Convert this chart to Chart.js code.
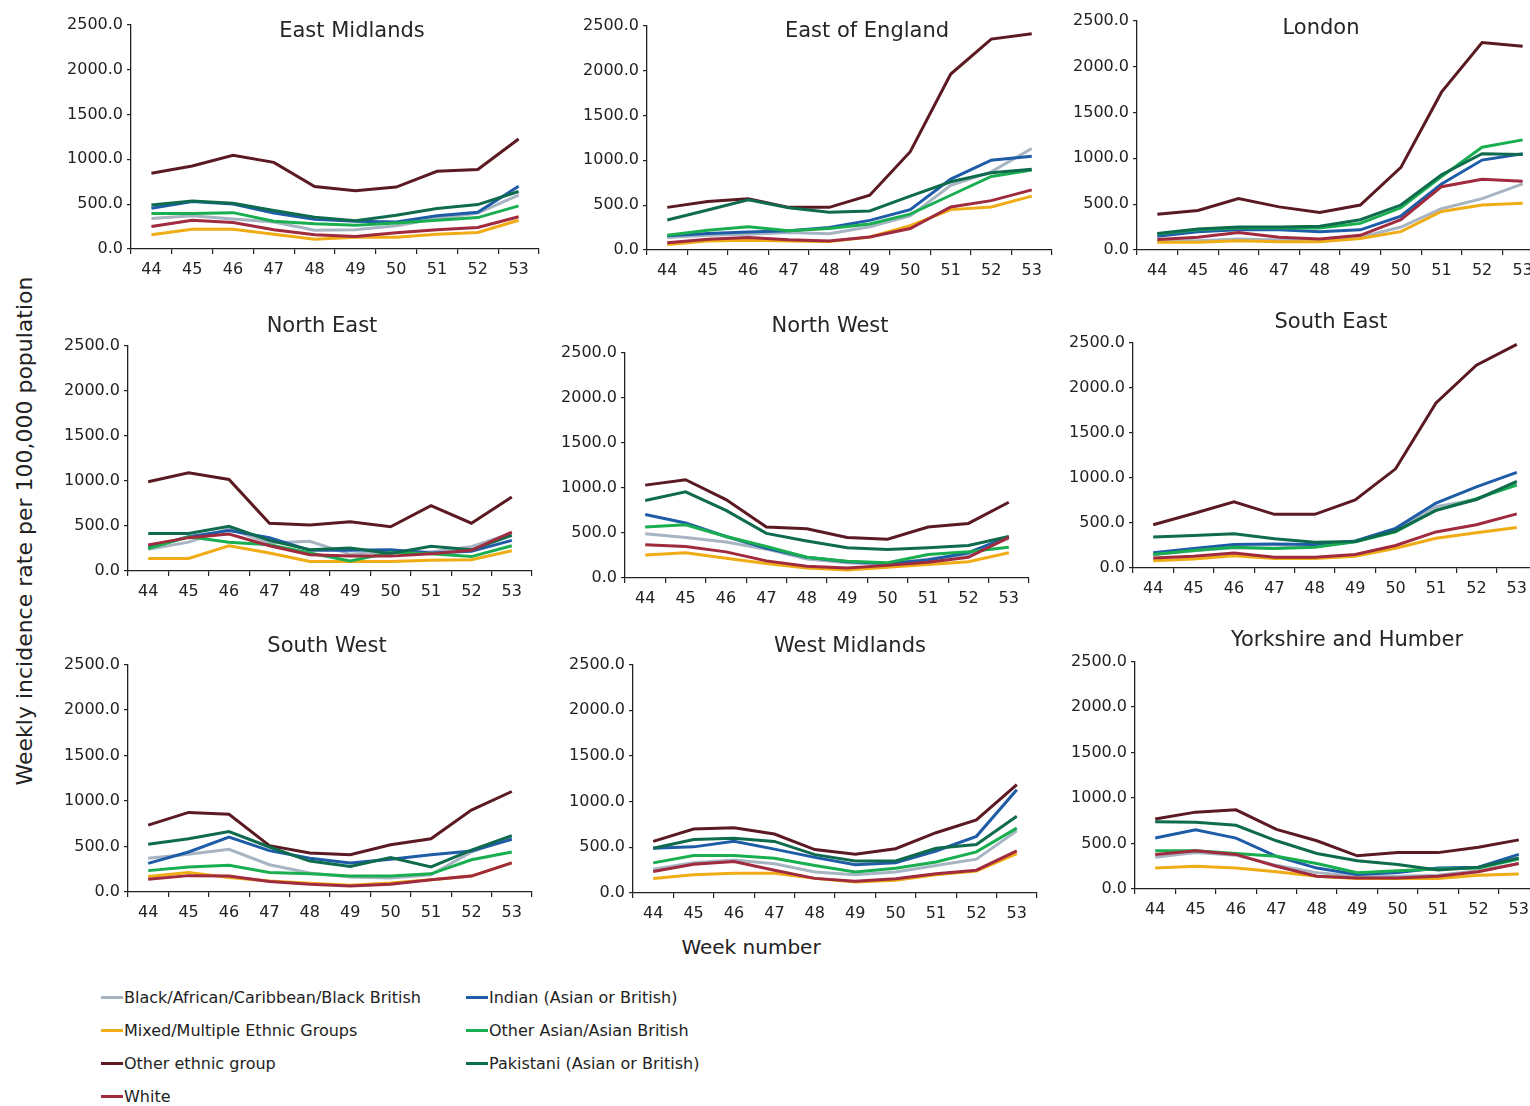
<!DOCTYPE html>
<html>
<head>
<meta charset="utf-8">
<title>Weekly incidence rate by ethnic group and region</title>
<script src="https://cdn.jsdelivr.net/npm/chart.js@4.4.1/dist/chart.umd.min.js"></script>
<style>
  html, body { margin: 0; padding: 0; background: #fff; }
  body { width: 1530px; height: 1106px; position: relative; overflow: hidden; font-family: "DejaVu Sans", sans-serif; color: #222; }
  .panel { position: absolute; }
  .title { position: absolute; font-size: 21px; line-height: 1; white-space: nowrap; transform: translateX(-50%); color: #262626; }
  .ytitle { position: absolute; left: 25px; top: 531px; font-size: 22px; line-height: 1; white-space: nowrap; transform: translate(-50%, -50%) rotate(-90deg); }
  .xtitle { position: absolute; left: 751px; top: 937px; font-size: 20px; line-height: 1; transform: translateX(-50%); white-space: nowrap; }
  .leg { position: absolute; font-size: 16px; line-height: 1; white-space: nowrap; transform: translateY(-50%); }
  .leg i { display: inline-block; width: 22px; height: 2.5px; vertical-align: middle; margin-right: 1px; position: relative; top: -1px; }
</style>
</head>
<body>
<div class="ytitle">Weekly incidence rate per 100,000 population</div>
<div class="xtitle">Week number</div>
<div id="legend"></div>

<script>
// categories
const weeks = ["44", "45", "46", "47", "48", "49", "50", "51", "52", "53"];
const groups = [
  "Black/African/Caribbean/Black British",
  "Indian (Asian or British)",
  "Mixed/Multiple Ethnic Groups",
  "Other Asian/Asian British",
  "Other ethnic group",
  "Pakistani (Asian or British)",
  "White"
];
const groupColors = ["#A7B4C2", "#1F5CA8", "#F0AC14", "#19AE50", "#5B1A22", "#0F6B4D", "#A02A3E"];
const yTicks = [0, 500, 1000, 1500, 2000, 2500];

// rows follow the order of groups: Black, Indian, Mixed, Other Asian, Other, Pakistani, White
const eastMidlands = [
  [340, 370, 335, 300, 210, 215, 260, 340, 400, 600],
  [455, 530, 500, 400, 330, 310, 300, 370, 410, 700],
  [160, 220, 220, 165, 110, 130, 130, 165, 185, 320],
  [395, 395, 405, 310, 280, 265, 290, 320, 350, 480],
  [845, 925, 1045, 965, 695, 650, 690, 865, 885, 1225],
  [490, 535, 510, 430, 355, 315, 375, 450, 495, 640],
  [250, 320, 295, 215, 160, 140, 180, 215, 240, 360]
];
const eastOfEngland = [
  [140, 165, 175, 195, 180, 260, 380, 720, 870, 1130],
  [160, 185, 200, 215, 250, 330, 450, 790, 1000, 1045],
  [60, 100, 110, 100, 95, 145, 270, 450, 480, 600],
  [165, 220, 260, 215, 240, 290, 400, 610, 820, 890],
  [475, 540, 570, 475, 475, 610, 1095, 1960, 2350, 2410],
  [335, 445, 560, 470, 420, 435, 600, 760, 860, 900],
  [80, 120, 140, 115, 100, 145, 240, 480, 550, 670]
];
const london = [
  [100, 100, 120, 110, 110, 140, 250, 450, 560, 720],
  [150, 200, 220, 220, 200, 220, 370, 720, 980, 1050],
  [85, 85, 100, 90, 90, 125, 200, 420, 490, 510],
  [175, 220, 240, 240, 240, 290, 460, 800, 1120, 1200],
  [390, 430, 560, 470, 410, 490, 900, 1720, 2260, 2220],
  [180, 230, 250, 250, 260, 330, 490, 820, 1050, 1040],
  [115, 140, 190, 140, 120, 160, 330, 690, 770, 750]
];
const northEast = [
  [240, 320, 470, 310, 330, 185, 220, 210, 270, 420],
  [260, 380, 450, 370, 230, 230, 235, 200, 220, 340],
  [140, 140, 280, 200, 105, 105, 105, 120, 125, 225],
  [250, 380, 320, 290, 200, 110, 205, 190, 160, 280],
  [990, 1090, 1015, 530, 510, 545, 490, 725, 530, 820],
  [415, 415, 495, 340, 235, 255, 195, 275, 235, 395],
  [290, 370, 410, 280, 180, 165, 165, 190, 230, 430]
];
const northWest = [
  [490, 450, 400, 320, 210, 170, 150, 210, 260, 440],
  [705, 610, 460, 330, 230, 180, 160, 200, 280, 460],
  [255, 280, 220, 160, 110, 90, 120, 150, 180, 280],
  [565, 590, 460, 350, 230, 185, 170, 260, 290, 340],
  [1030, 1090, 870, 565, 545, 450, 430, 565, 605, 840],
  [860, 955, 750, 495, 410, 335, 315, 335, 360, 460],
  [370, 350, 290, 190, 130, 110, 140, 175, 230, 450]
];
const southEast = [
  [150, 190, 225, 220, 245, 290, 420, 680, 760, 940],
  [170, 215, 260, 265, 260, 300, 440, 720, 900, 1060],
  [80, 100, 135, 105, 105, 130, 220, 330, 390, 450],
  [150, 195, 230, 215, 230, 290, 400, 640, 770, 920],
  [480, 605, 735, 595, 595, 755, 1100, 1830, 2250, 2480],
  [345, 360, 380, 325, 285, 295, 410, 640, 760, 960],
  [110, 130, 165, 120, 120, 150, 250, 400, 480, 600]
];
const southWest = [
  [370, 415, 470, 300, 210, 165, 155, 190, 440, 600],
  [315, 440, 605, 455, 370, 320, 360, 410, 450, 580],
  [170, 215, 160, 120, 95, 75, 100, 135, 175, 320],
  [235, 275, 295, 215, 200, 175, 175, 200, 355, 440],
  [735, 875, 855, 510, 430, 410, 520, 585, 900, 1105],
  [525, 585, 665, 495, 340, 280, 380, 275, 460, 620],
  [140, 180, 175, 115, 85, 65, 85, 135, 175, 320]
];
const westMidlands = [
  [260, 330, 360, 320, 230, 200, 230, 300, 370, 680],
  [490, 505, 565, 480, 390, 310, 330, 460, 620, 1130],
  [160, 200, 215, 215, 160, 120, 140, 200, 240, 430],
  [330, 410, 410, 380, 300, 230, 270, 340, 450, 710],
  [565, 700, 715, 645, 475, 425, 485, 660, 800, 1185],
  [490, 585, 600, 565, 420, 350, 350, 490, 530, 840],
  [235, 315, 345, 250, 160, 130, 155, 210, 250, 460]
];
const yorkshireHumber = [
  [350, 400, 370, 260, 180, 140, 140, 150, 200, 280],
  [560, 650, 560, 360, 230, 160, 180, 230, 240, 380],
  [230, 250, 230, 190, 140, 115, 115, 115, 150, 165],
  [420, 420, 390, 360, 280, 180, 200, 220, 230, 330],
  [770, 845, 870, 655, 530, 365, 400, 400, 460, 540],
  [740, 735, 700, 530, 390, 310, 270, 210, 240, 340],
  [380, 420, 380, 250, 140, 120, 120, 140, 190, 280]
];

const regionNames = ["East Midlands", "East of England", "London", "North East", "North West", "South East", "South West", "West Midlands", "Yorkshire and Humber"];
const regionData = [eastMidlands, eastOfEngland, london, northEast, northWest, southEast, southWest, westMidlands, yorkshireHumber];

// panel placement: y-axis x, y of top tick, y of zero, right end of x axis, title centre x, title top, x-axis band height
const panels = [
  { ax: 131, top: 21, zero: 249, right: 539, tx: 352, ty: 20, xb: 34 },
  { ax: 647, top: 22, zero: 250, right: 1052, tx: 867, ty: 20, xb: 34 },
  { ax: 1137, top: 17, zero: 250, right: 1543, tx: 1321, ty: 17, xb: 34 },
  { ax: 128, top: 342, zero: 571, right: 532, tx: 322, ty: 315, xb: 34 },
  { ax: 625, top: 349, zero: 578, right: 1029, tx: 830, ty: 315, xb: 25 },
  { ax: 1133, top: 339, zero: 568, right: 1537, tx: 1331, ty: 311, xb: 34 },
  { ax: 128, top: 661, zero: 892, right: 532, tx: 327, ty: 635, xb: 34 },
  { ax: 633, top: 661, zero: 893, right: 1037, tx: 850, ty: 635, xb: 34 },
  { ax: 1135, top: 658, zero: 889, right: 1539, tx: 1347, ty: 629, xb: 34 }
];

const YW = 75, PT = 10;
const tickFont = { family: "DejaVu Sans", size: 16 };

function buildPanel(i) {
  const p = panels[i];
  const box = document.createElement("div");
  box.className = "panel";
  const w = p.right - p.ax + YW + 2;
  const h = p.zero - p.top + PT + p.xb;
  box.style.left = (p.ax - YW) + "px";
  box.style.top = (p.top - PT) + "px";
  box.style.width = w + "px";
  box.style.height = h + "px";
  const c = document.createElement("canvas");
  box.appendChild(c);
  document.body.appendChild(box);

  const t = document.createElement("div");
  t.className = "title";
  t.textContent = regionNames[i];
  t.style.left = p.tx + "px";
  t.style.top = p.ty + "px";
  document.body.appendChild(t);

  const n = groups.length;
  const datasets = groups.map((g, k) => ({
    label: g,
    data: regionData[i][k],
    borderColor: groupColors[k],
    backgroundColor: groupColors[k],
    borderWidth: 3,
    pointRadius: 0,
    tension: 0,
    fill: false,
    order: n - 1 - k // later groups on top, like the source
  }));

  return new Chart(c, {
    type: "line",
    data: { labels: weeks, datasets: datasets },
    options: {
      responsive: true,
      maintainAspectRatio: false,
      animation: false,
      layout: { padding: { top: PT, right: 2, left: 0, bottom: 0 } },
      plugins: { legend: { display: false }, tooltip: { enabled: false } },
      scales: {
        x: {
          offset: true,
          grid: { offset: true, drawOnChartArea: false, drawTicks: true, tickLength: 5, color: "#222", lineWidth: 1.2 },
          border: { display: true, color: "#222", width: 1.3 },
          ticks: { color: "#222", font: tickFont, padding: 6, maxRotation: 0, autoSkip: false },
          afterFit: (s) => { s.height = p.xb; }
        },
        y: {
          min: 0,
          max: 2500,
          afterBuildTicks: (s) => { s.ticks = yTicks.map((v) => ({ value: v })); },
          grid: { drawOnChartArea: false, drawTicks: true, tickLength: 4, color: "#222", lineWidth: 1.2 },
          border: { display: true, color: "#222", width: 1.3 },
          ticks: { color: "#222", font: tickFont, padding: 4, callback: (v) => Number(v).toFixed(1) },
          afterFit: (s) => { s.width = YW; }
        }
      }
    }
  });
}

for (let i = 0; i < panels.length; i++) buildPanel(i);

// legend laid out in two columns like the source
const legendPos = [
  [101, 998], [466, 998],
  [101, 1031], [466, 1031],
  [101, 1064], [466, 1064],
  [101, 1097]
];
const legend = document.getElementById("legend");
groups.forEach((g, k) => {
  const d = document.createElement("div");
  d.className = "leg";
  d.style.left = legendPos[k][0] + "px";
  d.style.top = legendPos[k][1] + "px";
  const m = document.createElement("i");
  m.style.background = groupColors[k];
  d.appendChild(m);
  d.appendChild(document.createTextNode(g));
  legend.appendChild(d);
});
</script>
</body>
</html>
